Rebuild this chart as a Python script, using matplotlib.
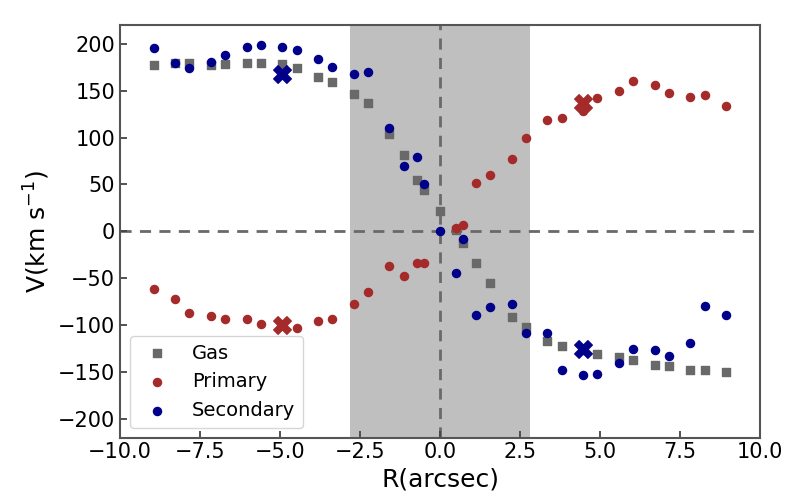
import matplotlib
matplotlib.use('Agg')
import matplotlib.pyplot as plt
import numpy as np

# radii of the extraction apertures (arcsec)
r_left = [-8.95, -8.28, -7.83, -7.17, -6.72, -6.04, -5.59, -4.93, -4.48, -3.81,
          -3.37, -2.69, -2.24, -1.58, -1.13, -0.72, -0.51]
r_right = [0.49, 0.71, 1.11, 1.57, 2.24, 2.69, 3.34, 3.80, 4.48, 4.92,
           5.58, 6.03, 6.71, 7.16, 7.82, 8.27, 8.94]

r_gas = r_left + [0.0] + r_right
v_gas = [177, 180, 179, 177, 178, 180, 180, 178, 174, 165,
         159, 146, 137, 104, 81, 55, 44,
         22,
         1, -12, -34, -55, -91, -102, -117, -122, -127, -131,
         -134, -137, -143, -144, -148, -148, -150]

r_prim = r_left + r_right
v_prim = [-62, -72, -87, -90, -94, -94, -99, -100, -103, -96,
          -94, -78, -65, -37, -48, -34, -34,
          4, 7, 52, 60, 77, 100, 119, 121, 128, 142,
          150, 160, 156, 147, 143, 145, 134]

r_sec = r_left + [0.0] + r_right
v_sec = [195, 179, 174, 181, 188, 197, 199, 197, 193, 184,
         175, 168, 170, 110, 70, 79, 50,
         0,
         -44, -8, -89, -81, -78, -108, -109, -148, -153, -152,
         -140, -126, -127, -133, -119, -80, -89]

# peak (mean) velocities marked with crosses
r_peak = [-4.93, 4.47]
v_peak_prim = [-100, 137]
v_peak_sec = [168, -126]

shade_r = 2.8

fig = plt.figure(figsize=(8, 5), dpi=100)
ax = fig.add_axes([0.15, 0.125, 0.8, 0.825])

ax.axvspan(-shade_r, shade_r, color='gray', alpha=0.5, lw=0, zorder=0)
ax.axhline(0, color='dimgray', ls='--', lw=2, dashes=(4, 3), zorder=1)
ax.axvline(0, color='dimgray', ls='--', lw=2, dashes=(4, 3), zorder=1)

ax.scatter(r_gas, v_gas, marker='s', s=28, color='dimgray', label='Gas', zorder=2)
ax.scatter(r_prim, v_prim, marker='o', s=34, color='brown', label='Primary', zorder=3)
ax.scatter(r_sec, v_sec, marker='o', s=34, color='darkblue', label='Secondary', zorder=4)
ax.scatter(r_peak, v_peak_prim, marker='X', s=160, color='brown', zorder=5)
ax.scatter(r_peak, v_peak_sec, marker='X', s=160, color='darkblue', zorder=5)

ax.set_xlim(-10, 10)
ax.set_ylim(-220, 220)
ax.set_xticks(np.arange(-10, 10.1, 2.5))
ax.set_yticks(np.arange(-200, 201, 50))
ax.set_xlabel('R(arcsec)', fontsize=18)
ax.set_ylabel(r'V(km s$^{-1}$)', fontsize=18)
ax.tick_params(direction='in', labelsize=15, length=5, width=1.3, color='#444444')
for sp in ax.spines.values():
    sp.set_color('#555555')
    sp.set_linewidth(1.5)

ax.legend(loc='lower left', fontsize=14)

plt.savefig('out.png', dpi=100)
